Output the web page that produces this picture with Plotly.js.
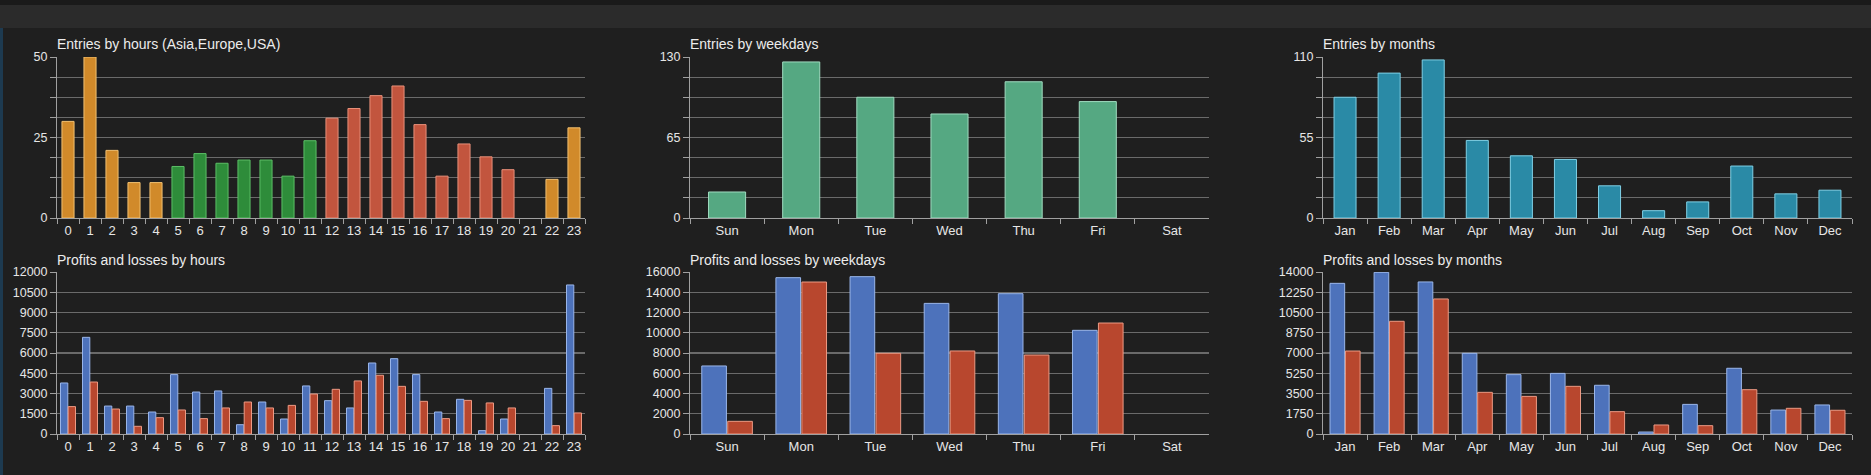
<!DOCTYPE html>
<html><head><meta charset="utf-8">
<script src="https://cdn.plot.ly/plotly-3.0.1.min.js"></script>
<style>body{margin:0;background:#1f1f1f}#c{width:1871px;height:475px}</style>
</head><body><div id="c"></div>
<script>
const hours = ['0','1','2','3','4','5','6','7','8','9','10','11','12','13','14','15','16','17','18','19','20','21','22','23'];
const weekdays = ['Sun','Mon','Tue','Wed','Thu','Fri','Sat'];
const months = ['Jan','Feb','Mar','Apr','May','Jun','Jul','Aug','Sep','Oct','Nov','Dec'];
const entriesHours = [30,50,21,11,11,16,20,17,18,18,13,24,31,34,38,41,29,13,23,19,15,0,12,28];
const hourSession = ['A','A','A','A','A','E','E','E','E','E','E','E','U','U','U','U','U','U','U','U','U','U','A','A'];
const entriesWeek = [21,126,97.5,84,110,94,0];
const entriesMonths = [82.5,99,108,53,42.5,40,22,5,11,35.5,16.5,19];
const profitHours = [3780,7160,2070,2070,1630,4400,3110,3190,690,2370,1110,3560,2470,1930,5260,5580,4400,1630,2570,250,1110,0,3380,11040];
const lossHours = [2030,3850,1850,570,1210,1780,1140,1930,2370,1930,2120,2960,3310,3930,4350,3530,2420,1140,2490,2300,1930,0,620,1560];
const profitWeek = [6720,15440,15540,12900,13860,10240,0];
const lossWeek = [1250,15010,7970,8200,7800,10960,0];
const profitMonths = [13020,13970,13140,6970,5130,5240,4210,170,2560,5680,2070,2510];
const lossMonths = [7170,9740,11670,3600,3250,4120,1930,780,720,3830,2220,2050];

const W=1871,H=475;
const cols=[[57,585],[690,1209],[1323,1852]];
const rows=[[57,218],[272,434]];
const sessColor={A:'#d18a2a',E:'#2e8c3a',U:'#c2553e'};
const sessLine={A:'#f2c070',E:'#5cbf66',U:'#e8907a'};
const lw=arr=>arr.map(v=>v>0?1:0);
const font={family:'Liberation Sans, Arial, sans-serif',size:12.5,color:'#e6e6e6'};
const layout={width:W,height:H,margin:{l:0,r:0,t:0,b:0},paper_bgcolor:'#1f1f1f',plot_bgcolor:'#1f1f1f',
  font:font,showlegend:false,barmode:'group',bargap:0.3,bargroupgap:0.05,annotations:[],
  shapes:[{type:'rect',xref:'paper',yref:'paper',x0:0,x1:1,y0:1-5/H,y1:1,fillcolor:'#1a1a1a',line:{width:0}},
          {type:'rect',xref:'paper',yref:'paper',x0:0,x1:1,y0:1-28/H,y1:1-5/H,fillcolor:'#2b2b2b',line:{width:0}},
          {type:'rect',xref:'paper',yref:'paper',x0:0,x1:3/W,y0:0,y1:1-28/H,fillcolor:'#1d3a50',line:{width:0}}]};
const specs=[
 {r:0,c:0,title:'Entries by hours (Asia,Europe,USA)',max:50,dt:6.25,labels:[0,25,50]},
 {r:0,c:1,title:'Entries by weekdays',max:130,dt:16.25,labels:[0,65,130]},
 {r:0,c:2,title:'Entries by months',max:110,dt:13.75,labels:[0,55,110]},
 {r:1,c:0,title:'Profits and losses by hours',max:12000,dt:1500},
 {r:1,c:1,title:'Profits and losses by weekdays',max:16000,dt:2000},
 {r:1,c:2,title:'Profits and losses by months',max:14000,dt:1750}];
specs.forEach((s,i)=>{
  const n=i+1, xa='xaxis'+(n>1?n:''), ya='yaxis'+(n>1?n:'');
  const [x0,x1]=cols[s.c],[yt,yb]=rows[s.r];
  const tv=[],tt=[];
  for(let v=0;v<=s.max+1e-6;v+=s.dt){tv.push(v);tt.push(s.labels?(s.labels.includes(v)?String(v):''):String(v));}
  layout[xa]={domain:[x0/W,x1/W],anchor:'y'+(n>1?n:''),type:'category',tickson:'boundaries',ticks:'outside',ticklen:5,tickangle:0,
    tickcolor:'#a0a0a0',showline:true,linecolor:'#a0a0a0',showgrid:false,tickfont:{size:13,color:'#e6e6e6'},fixedrange:true};
  layout[ya]={domain:[1-yb/H,1-yt/H],anchor:'x'+(n>1?n:''),range:[0,s.max],tickvals:tv,ticktext:tt,ticks:'outside',ticklen:6,
    tickcolor:'#a0a0a0',showline:true,linecolor:'#a0a0a0',gridcolor:'#6a6a6a',gridwidth:1.2,zeroline:false,
    tickfont:{size:12.5,color:'#e6e6e6'},fixedrange:true};
  layout.annotations.push({xref:'paper',yref:'paper',x:(x0-2)/W,y:1-(s.r?260:44)/H,xanchor:'left',yanchor:'middle',
    text:s.title,showarrow:false,font:{size:14,color:'#ececec'}});
});
const xr=n=>'x'+(n>1?n:''), yr=n=>'y'+(n>1?n:'');
const data=[
 {type:'bar',x:hours,y:entriesHours,xaxis:xr(1),yaxis:yr(1),width:0.55,
  marker:{color:hourSession.map(k=>sessColor[k]),line:{color:hourSession.map(k=>sessLine[k]),width:lw(entriesHours)}}},
 {type:'bar',x:weekdays,y:entriesWeek,xaxis:xr(2),yaxis:yr(2),width:0.5,marker:{color:'#55a882',line:{color:'#a0dcc0',width:lw(entriesWeek)}}},
 {type:'bar',x:months,y:entriesMonths,xaxis:xr(3),yaxis:yr(3),width:0.5,marker:{color:'#2a8aa6',line:{color:'#7fd0e6',width:lw(entriesMonths)}}},
];
[[hours,profitHours,lossHours,4],[weekdays,profitWeek,lossWeek,5],[months,profitMonths,lossMonths,6]].forEach(([cat,p,l,n])=>{
  data.push({type:'bar',x:cat,y:p,xaxis:xr(n),yaxis:yr(n),offsetgroup:'p',marker:{color:'#4d72bb',line:{color:'#9ab6ea',width:lw(p)}}});
  data.push({type:'bar',x:cat,y:l,xaxis:xr(n),yaxis:yr(n),offsetgroup:'l',marker:{color:'#b8472e',line:{color:'#ec9a84',width:lw(l)}}});
});
Plotly.newPlot('c',data,layout,{staticPlot:true});
</script></body></html>
